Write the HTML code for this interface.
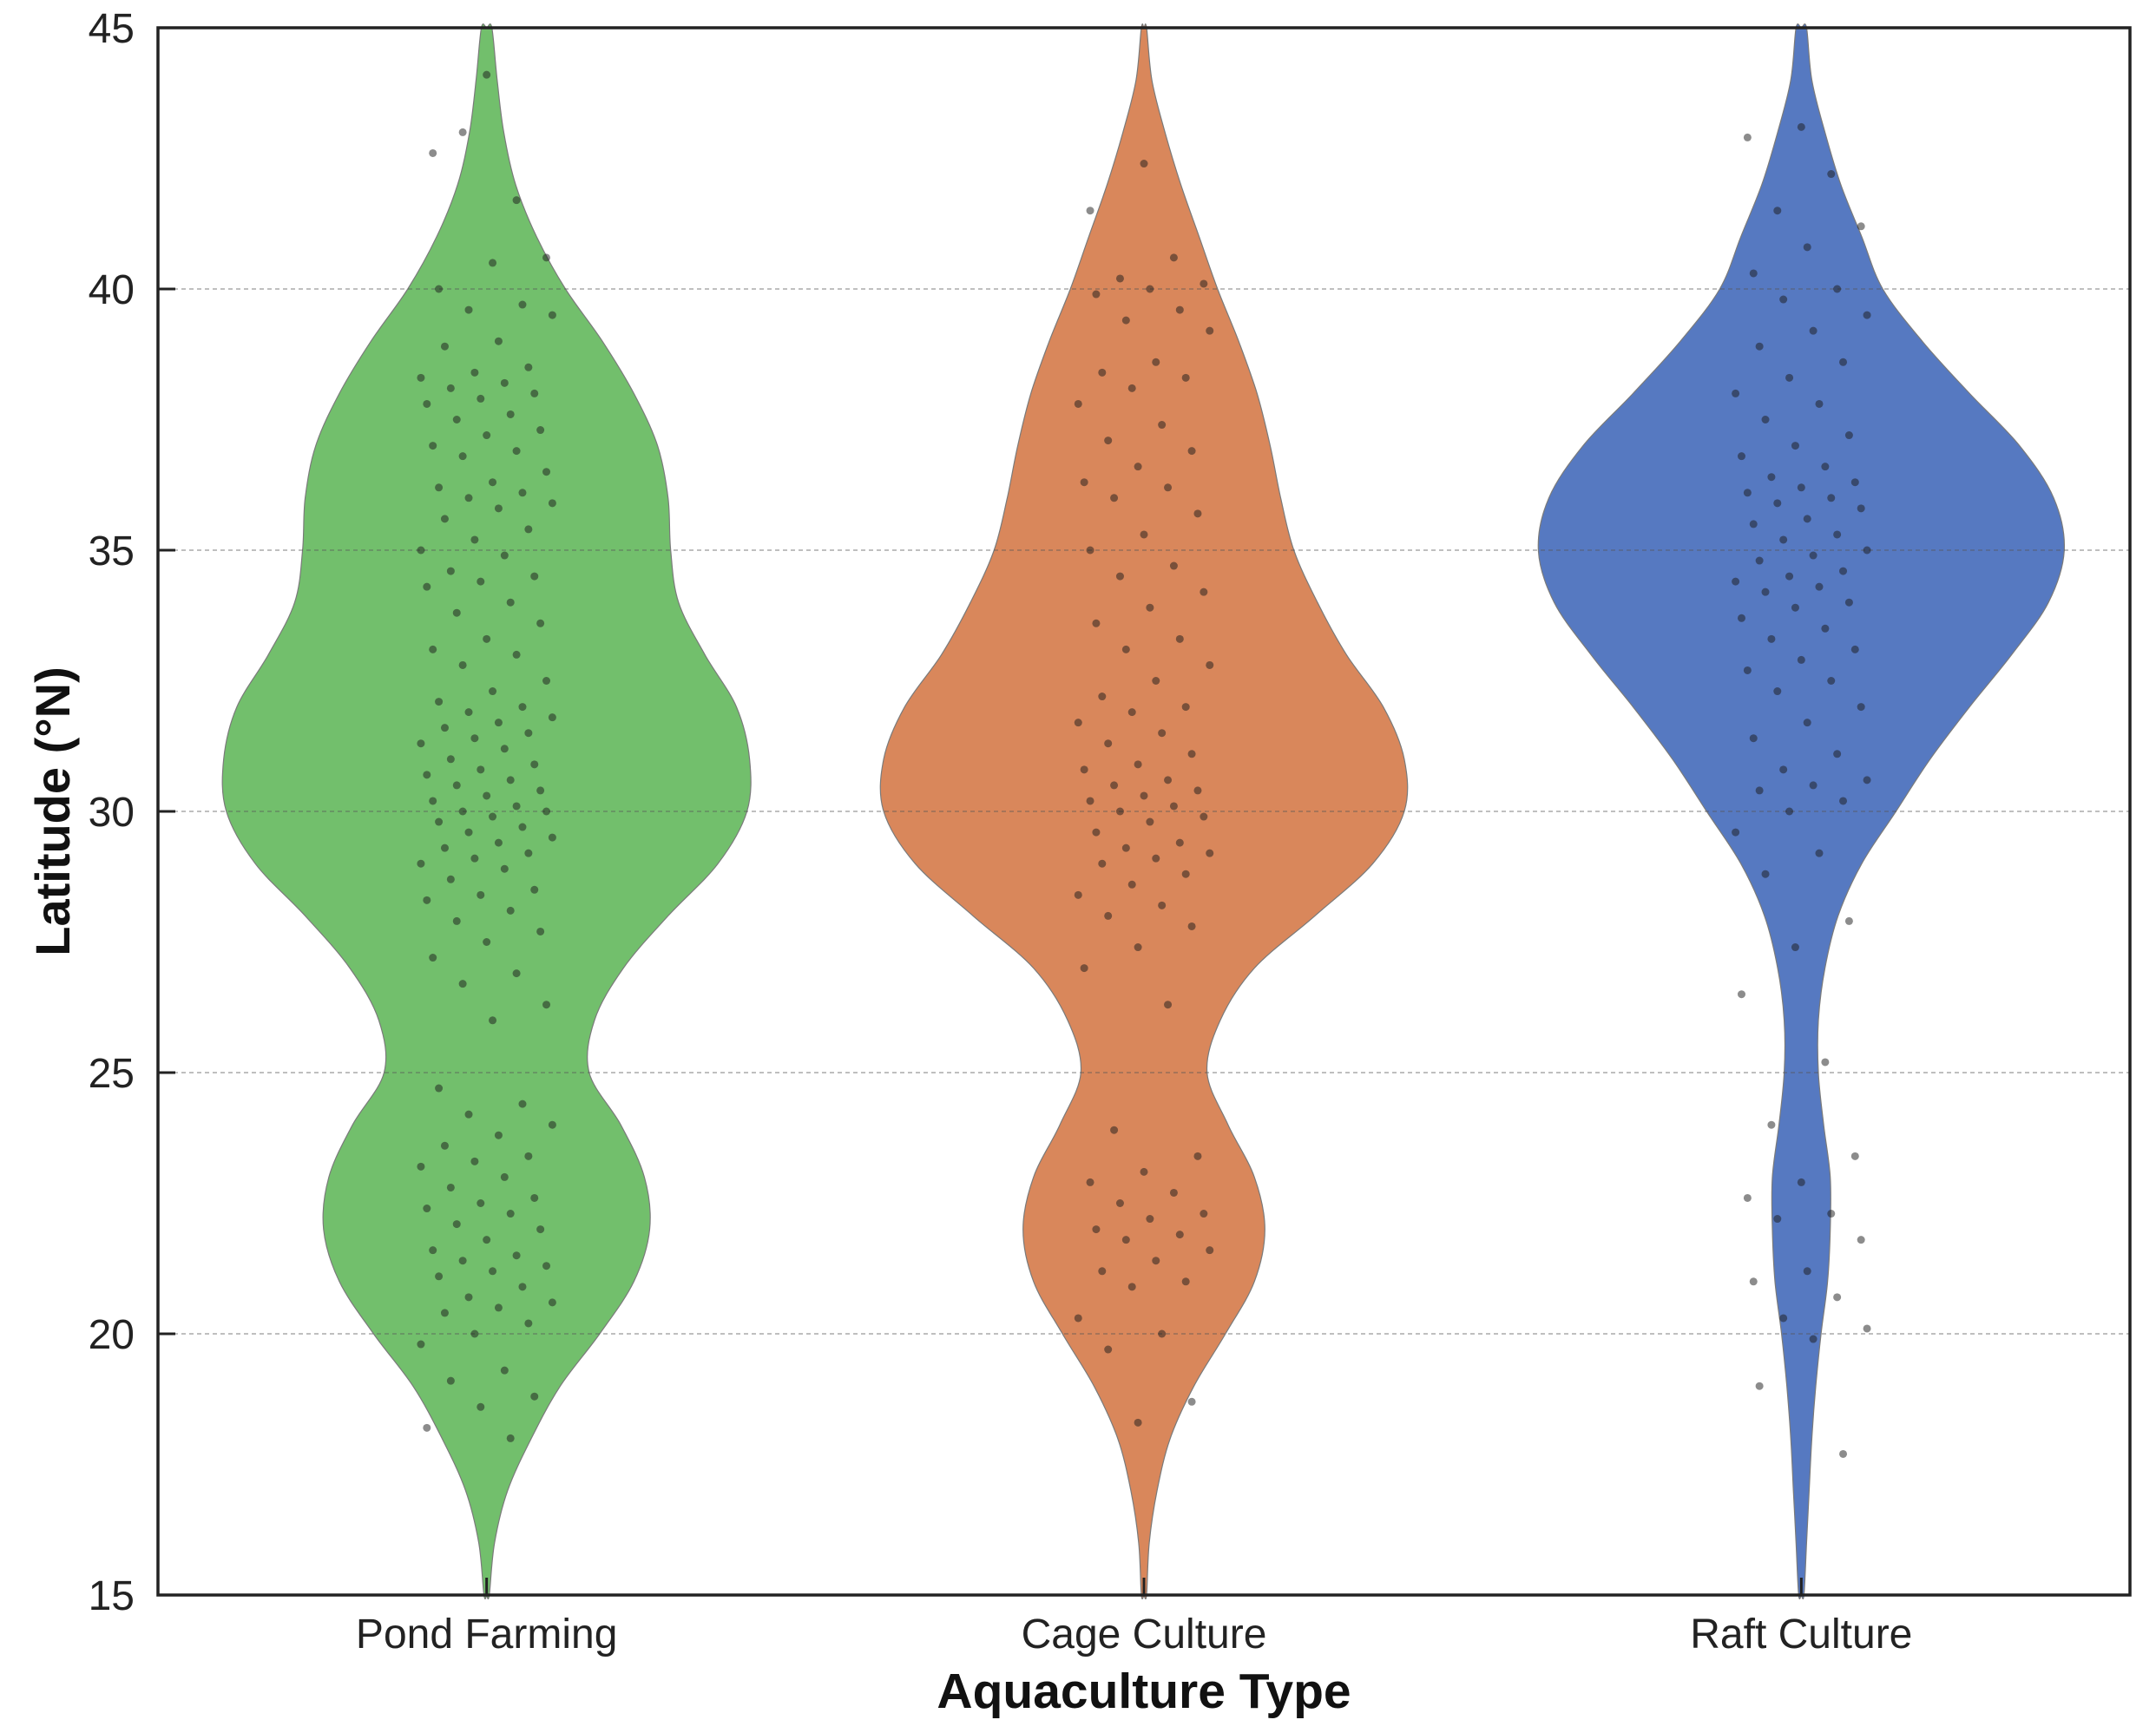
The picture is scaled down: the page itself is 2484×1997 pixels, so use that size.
<!DOCTYPE html>
<html><head><meta charset="utf-8"><style>
html,body{margin:0;padding:0;background:#fff;}
svg{display:block;font-family:"Liberation Sans",Arial,sans-serif;}
</style></head><body>
<svg id="chart" width="2484" height="1997" viewBox="0 0 2484 1997" xmlns="http://www.w3.org/2000/svg">
<rect x="0" y="0" width="2484" height="1997" fill="#fff"/>
<g id="violins"></g>
<g id="grid"></g>
<g id="points"></g>
<rect x="182" y="32" width="2272" height="1806" fill="none" stroke="#222" stroke-width="3.5"/>
<g id="axes"></g>
<text x="80" y="935" transform="rotate(-90 80 935)" text-anchor="middle" font-size="56" font-weight="bold" fill="#111">Latitude (°N)</text>
<text x="1318" y="1968" text-anchor="middle" font-size="57" font-weight="bold" fill="#111">Aquaculture Type</text>
</svg>
<script>
const categories = ["Pond Farming", "Cage Culture", "Raft Culture"];
const colors = ["#72bf6c", "#d9875b", "#5679c1"];
const yTicks = [15, 20, 25, 30, 35, 40, 45];
const gridTicks = [20, 25, 30, 35, 40];
const densityLat = [15,16,17,18,19,20,21,22,23,24,25,26,27,28,29,30,31,32,33,34,35,36,37,38,39,40,41,42,43,44,45];
const pondDensity = [0.01,0.03,0.08,0.17,0.28,0.43,0.56,0.62,0.60,0.51,0.39,0.41,0.52,0.69,0.88,0.99,1.0,0.95,0.83,0.73,0.70,0.69,0.65,0.56,0.44,0.30,0.19,0.11,0.065,0.04,0.02];
const cageDensity = [0.01,0.02,0.05,0.10,0.19,0.31,0.42,0.46,0.42,0.32,0.24,0.29,0.42,0.65,0.87,0.99,0.99,0.91,0.77,0.66,0.57,0.52,0.48,0.43,0.36,0.28,0.21,0.14,0.08,0.03,0.01];
const raftDensity = [0.01,0.02,0.03,0.04,0.055,0.075,0.10,0.11,0.11,0.085,0.065,0.065,0.09,0.14,0.23,0.36,0.49,0.64,0.80,0.94,1.0,0.96,0.83,0.64,0.46,0.31,0.23,0.15,0.09,0.04,0.02];
const pondPoints = [44.1,42.6,41.7,43.0,40.6,40.5,40.0,39.7,39.6,39.5,39.0,38.9,38.5,38.4,38.3,38.2,38.1,38.0,37.9,37.8,37.6,37.5,37.3,37.2,37.0,36.9,36.8,36.5,36.3,36.2,36.1,36.0,35.9,35.8,35.6,35.4,35.2,35.0,34.9,34.6,34.5,34.4,34.3,34.0,33.8,33.6,33.3,33.1,33.0,32.8,32.5,32.3,32.1,32.0,31.9,31.8,31.7,31.6,31.5,31.4,31.3,31.2,31.0,30.9,30.8,30.7,30.6,30.5,30.4,30.3,30.2,30.1,30.0,30.0,29.9,29.8,29.7,29.6,29.5,29.4,29.3,29.2,29.1,29.0,28.9,28.7,28.5,28.4,28.3,28.1,27.9,27.7,27.5,27.2,26.9,26.7,26.3,26.0,24.7,24.4,24.2,24.0,23.8,23.6,23.4,23.3,23.2,23.0,22.8,22.6,22.5,22.4,22.3,22.1,22.0,21.8,21.6,21.5,21.4,21.3,21.2,21.1,20.9,20.7,20.6,20.5,20.4,20.2,20.0,19.8,19.3,19.1,18.8,18.6,18.2,18.0];
const cagePoints = [42.4,41.5,40.6,40.2,40.1,40.0,39.9,39.6,39.4,39.2,38.6,38.4,38.3,38.1,37.8,37.4,37.1,36.9,36.6,36.3,36.2,36.0,35.7,35.3,35.0,34.7,34.5,34.2,33.9,33.6,33.3,33.1,32.8,32.5,32.2,32.0,31.9,31.7,31.5,31.3,31.1,30.9,30.8,30.6,30.5,30.4,30.3,30.2,30.1,30.0,29.9,29.8,29.6,29.4,29.3,29.2,29.1,29.0,28.8,28.6,28.4,28.2,28.0,27.8,27.4,27.0,26.3,23.9,23.4,23.1,22.9,22.7,22.5,22.3,22.2,22.0,21.9,21.8,21.6,21.4,21.2,21.0,20.9,20.3,20.0,19.7,18.7,18.3];
const raftPoints = [43.1,42.9,42.2,41.5,41.2,40.8,40.3,40.0,39.8,39.5,39.2,38.9,38.6,38.3,38.0,37.8,37.5,37.2,37.0,36.8,36.6,36.4,36.3,36.2,36.1,36.0,35.9,35.8,35.6,35.5,35.3,35.2,35.0,34.9,34.8,34.6,34.5,34.4,34.3,34.2,34.0,33.9,33.7,33.5,33.3,33.1,32.9,32.7,32.5,32.3,32.0,31.7,31.4,31.1,30.8,30.6,30.5,30.4,30.2,30.0,29.6,29.2,28.8,27.9,27.4,26.5,25.2,24.0,23.4,22.9,22.6,22.3,22.2,21.8,21.2,21.0,20.7,20.3,20.1,19.9,19.0,17.7];

const densities = [pondDensity, cageDensity, raftDensity];
const pointSets = [pondPoints, cagePoints, raftPoints];
const NS = "http://www.w3.org/2000/svg";
const X0 = 182, X1 = 2454, Y0 = 32, Y1 = 1838;
const yMin = 15, yMax = 45;
function yScale(v){ return Y1 - (v - yMin) / (yMax - yMin) * (Y1 - Y0); }
function xScale(i){ return X0 + (i + 0.5) / categories.length * (X1 - X0); }
const halfW = 0.4 * (X1 - X0) / categories.length;
function mk(tag, attrs, parent){ const e = document.createElementNS(NS, tag); for (const k in attrs) e.setAttribute(k, attrs[k]); parent.appendChild(e); return e; }
function smoothPath(pts){
  let d = "M" + pts[0][0].toFixed(1) + "," + pts[0][1].toFixed(1);
  for (let i = 0; i < pts.length - 1; i++){
    const p0 = pts[Math.max(0, i-1)], p1 = pts[i], p2 = pts[i+1], p3 = pts[Math.min(pts.length-1, i+2)];
    const c1 = [p1[0] + (p2[0]-p0[0])/6, p1[1] + (p2[1]-p0[1])/6];
    const c2 = [p2[0] - (p3[0]-p1[0])/6, p2[1] - (p3[1]-p1[1])/6];
    d += "C" + c1[0].toFixed(1) + "," + c1[1].toFixed(1) + " " + c2[0].toFixed(1) + "," + c2[1].toFixed(1) + " " + p2[0].toFixed(1) + "," + p2[1].toFixed(1);
  }
  return d;
}
const gV = document.getElementById("violins");
const gG = document.getElementById("grid");
const gP = document.getElementById("points");
const gA = document.getElementById("axes");
categories.forEach((c, i) => {
  const cx = xScale(i), dens = densities[i];
  const right = densityLat.map((l, k) => [cx + dens[k] * halfW, yScale(l)]);
  const left = densityLat.map((l, k) => [cx - dens[k] * halfW, yScale(l)]).reverse();
  const pts = [[cx, yScale(densityLat[0])]].concat(right, [[cx, yScale(densityLat[densityLat.length-1])]], left, [[cx, yScale(densityLat[0])]]);
  const p = mk("path", {d: smoothPath(pts) + "Z", fill: colors[i], stroke: "#7a7a7a", "stroke-width": 1.2}, gV);
  
  
});
gridTicks.forEach(t => {
  const l = mk("line", {x1: X0, x2: X1, y1: yScale(t), y2: yScale(t), stroke: "#555", "stroke-opacity": 0.5, "stroke-width": 1.5, "stroke-dasharray": "5,4"}, gG);
  
  
});
pointSets.forEach((set, i) => {
  const cx = xScale(i);
  set.forEach((v, k) => {
    const j = (((k * 37 + 11) % 23) / 22 - 0.5) * 0.2 * (X1 - X0) / categories.length;
    const c = mk("circle", {cx: cx + j, cy: yScale(v), r: 4.5, fill: "#1a1a1a", "fill-opacity": 0.5}, gP);
    
    
  });
});
yTicks.forEach(t => {
  const y = yScale(t);
  const tk = mk("line", {x1: X0, x2: X0 + 20, y1: y, y2: y, stroke: "#222", "stroke-width": 3}, gA);
  
  
  const tx = mk("text", {x: 155, y: y + 17, "text-anchor": "end", "font-size": 48, fill: "#222"}, gA);
  tx.textContent = t;
  
  
});
categories.forEach((c, i) => {
  const x = xScale(i);
  const tk = mk("line", {x1: x, x2: x, y1: Y1, y2: Y1 - 20, stroke: "#222", "stroke-width": 3}, gA);
  
  
  const tx = mk("text", {x: x, y: 1899, "text-anchor": "middle", "font-size": 48, fill: "#222"}, gA);
  tx.textContent = c;
  
  
});
</script>
</body></html>
